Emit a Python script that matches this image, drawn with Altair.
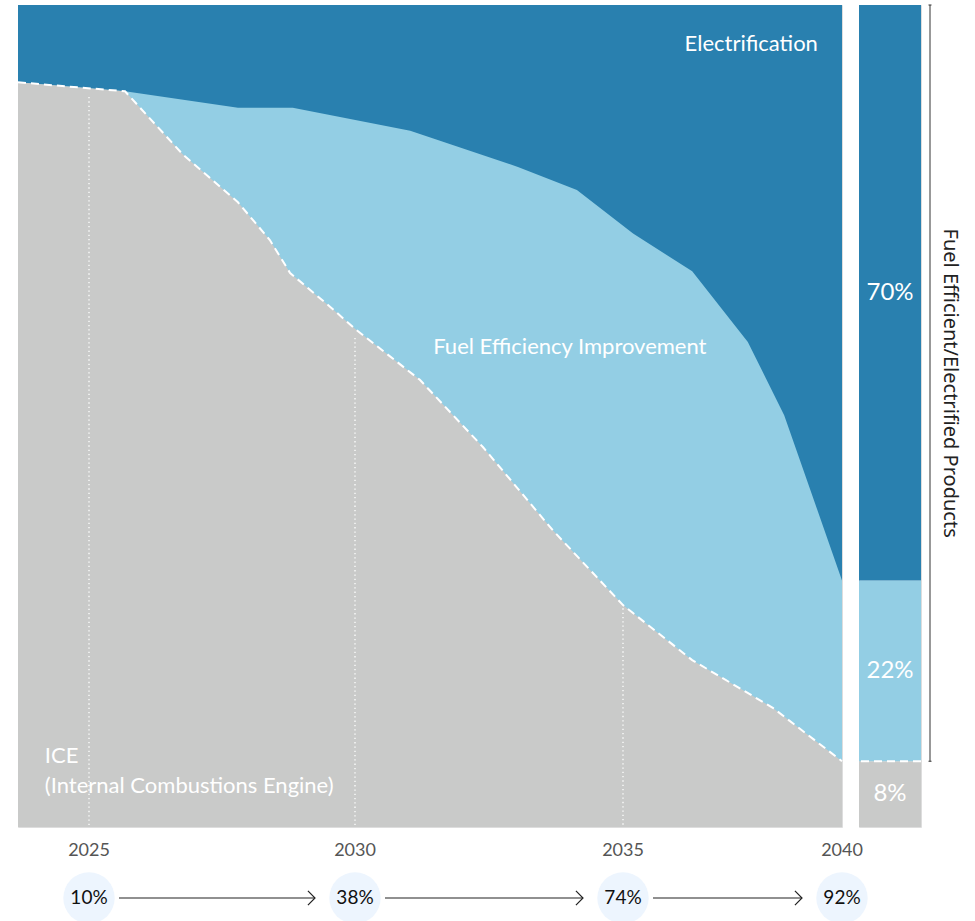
import altair as alt
import pandas as pd

# ---- data ----
# ICE share (%) along the timeline (top of the grey band)
ice_years = [2023.665, 2025.677, 2026.767, 2027.80, 2028.40, 2028.78, 2029.53, 2030.0,
             2031.21, 2032.39, 2033.69, 2035.0, 2036.58, 2038.42, 2040.0]
ice_share = [90.6, 89.5, 81.8, 76.0, 71.4, 67.4, 63.3, 60.6,
             54.4, 46.2, 36.1, 27.0, 20.3, 14.5, 8.0]

# ICE + fuel-efficiency share (%) (top of the light-blue band)
fe_years = [2023.665, 2025.677, 2027.80, 2028.83, 2031.03, 2033.04, 2034.14,
            2035.23, 2036.58, 2037.85, 2038.68, 2040.0]
fe_top = [90.6, 89.5, 87.5, 87.5, 84.7, 80.3, 77.5,
          72.2, 67.6, 59.0, 50.1, 30.0]

# Electrification fills up to 100 %
elec_years = [2023.665, 2040.0]
elec_top = [100, 100]

# milestones
milestone_years = [2025, 2030, 2035, 2040]
milestone_labels = ["2025", "2030", "2035", "2040"]
milestone_share = ["10%", "38%", "74%", "92%"]
guide_years = [2025, 2030, 2035]
guide_top = [88.8, 59.5, 26.6]

# 2040 split bar
bar_segments = ["ICE", "Fuel Efficiency Improvement", "Electrification"]
bar_values = [8, 22, 70]
bar_labels = ["8%", "22%", "70%"]

# area labels
area_label_text = ["Electrification", "Fuel Efficiency Improvement", "ICE", "(Internal Combustions Engine)"]
area_label_x = [2039.45, 2031.46, 2024.17, 2024.17]
area_label_y = [95.3, 58.4, 8.6, 5.0]
area_label_align = ["right", "left", "left", "left"]

axis_title = "Fuel Efficient/Electrified Products"

# ---- styling ----
DARK = "#2980AF"
LIGHT = "#93CEE4"
GREY = "#C9CAC9"
CIRCLE = "#EDF5FE"
FONT = "Lato"

W, H = 824, 822
xscale = alt.Scale(domain=[2023.665, 2025, 2030, 2035, 2040], range=[0, 71, 337, 605, 824],
                   nice=False, zero=False)
yscale = alt.Scale(domain=[0, 100], nice=False, zero=True)

X = lambda f: alt.X(f, type="quantitative", scale=xscale, axis=None)
Y = lambda f: alt.Y(f, type="quantitative", scale=yscale, axis=None)

ice_df = pd.DataFrame({"year": ice_years, "share": ice_share})
fe_df = pd.DataFrame({"year": fe_years, "share": fe_top})
el_df = pd.DataFrame({"year": elec_years, "share": elec_top})

elec = alt.Chart(el_df).mark_area(color=DARK, opacity=1).encode(x=X("year"), y=Y("share"))
fe = alt.Chart(fe_df).mark_area(color=LIGHT, opacity=1).encode(x=X("year"), y=Y("share"))
ice = alt.Chart(ice_df).mark_area(color=GREY, opacity=1).encode(x=X("year"), y=Y("share"))
ice_line = alt.Chart(ice_df).mark_line(color="white", strokeWidth=2, strokeDash=[8, 5]).encode(
    x=X("year"), y=Y("share"))

guide_df = pd.DataFrame({"year": guide_years, "top": guide_top, "bottom": [0] * len(guide_years)})
guides = alt.Chart(guide_df).mark_rule(color="white", strokeWidth=1.3, strokeDash=[1.3, 3]).encode(
    x=X("year"), y=Y("top"), y2="bottom:Q")

lab_df = pd.DataFrame({"t": area_label_text, "x": area_label_x, "y": area_label_y, "a": area_label_align})
lab_right = alt.Chart(lab_df[lab_df.a == "right"]).mark_text(
    align="right", baseline="middle", color="white", fontSize=22, font=FONT).encode(
    x=X("x"), y=Y("y"), text="t:N")
lab_left = alt.Chart(lab_df[lab_df.a == "left"]).mark_text(
    align="left", baseline="middle", color="white", fontSize=22, font=FONT).encode(
    x=X("x"), y=Y("y"), text="t:N")

ms_df = pd.DataFrame({"year": milestone_years, "label": milestone_labels, "share": milestone_share})
year_text = alt.Chart(ms_df).mark_text(fontSize=18, color="#555555", font=FONT, baseline="middle").encode(
    x=X("year"), y=alt.value(846), text="label:N")
circles = alt.Chart(ms_df).mark_circle(size=2642, color=CIRCLE, opacity=1).encode(
    x=X("year"), y=alt.value(893))
circle_text = alt.Chart(ms_df).mark_text(fontSize=19, color="#111111", font=FONT, baseline="middle").encode(
    x=X("year"), y=alt.value(893), text="share:N")

arr_df = pd.DataFrame({"from": milestone_years[:-1], "to": milestone_years[1:]})
arrows = alt.Chart(arr_df).mark_rule(color="#222222", strokeWidth=1.2, xOffset=30, x2Offset=-40).encode(
    x=X("from"), x2="to:Q", y=alt.value(893))
heads = alt.Chart(arr_df).mark_point(shape="M-1,-1L0,0L-1,1", filled=False, size=200, color="#222222",
                                     strokeWidth=1.2, opacity=1, xOffset=-40).encode(
    x=X("to"), y=alt.value(893))

main = alt.layer(elec, fe, ice, guides, ice_line, lab_right, lab_left,
                 year_text, circles, arrows, heads, circle_text).properties(width=W, height=H)

# ---- right bar ----
y0, y1, acc = [], [], 0
for v in bar_values:
    y0.append(acc)
    acc += v
    y1.append(acc)
bar_df = pd.DataFrame({"seg": bar_segments, "v": bar_values, "y0": y0, "y1": y1,
                       "mid": [(a + b) / 2 for a, b in zip(y0, y1)], "label": bar_labels,
                       "col": ["2040"] * 3})
bar = alt.Chart(bar_df).mark_bar(opacity=1).encode(
    x=alt.X("col:N", scale=alt.Scale(padding=0), axis=None),
    y=Y("y1"), y2="y0:Q",
    color=alt.Color("seg:N", scale=alt.Scale(domain=bar_segments, range=[GREY, LIGHT, DARK]), legend=None))
bar_text = alt.Chart(bar_df).mark_text(color="white", fontSize=24, font=FONT, baseline="middle").encode(
    x=alt.X("col:N", scale=alt.Scale(padding=0), axis=None), y=Y("mid"), text="label:N")
split_df = pd.DataFrame({"v": [bar_values[0]]})
split = alt.Chart(split_df).mark_rule(color="white", strokeWidth=2, strokeDash=[8, 5]).encode(y=Y("v"))

br_df = pd.DataFrame({"top": [100], "bottom": [bar_values[0]], "mid": [(100 + bar_values[0]) / 2],
                      "title": [axis_title]})
bracket = alt.Chart(br_df).mark_rule(color="#333333", strokeWidth=1).encode(
    x=alt.value(71), y=Y("top"), y2="bottom:Q")
cap_df = pd.DataFrame({"y": [100, bar_values[0]]})
caps = alt.Chart(cap_df).mark_rule(color="#333333", strokeWidth=1).encode(
    x=alt.value(69.5), x2=alt.value(72.5), y=Y("y"))
title = alt.Chart(br_df).mark_text(angle=90, fontSize=20, color="#222222", font="Noto Sans",
                                   align="center", baseline="middle").encode(
    x=alt.value(91), y=Y("mid"), text="title:N")

side = alt.layer(bar, split, bar_text, bracket, caps, title).properties(width=62, height=H)

chart = alt.hconcat(main, side, spacing=17, bounds="flush",
                    padding={"left": 13, "top": 4, "right": 10, "bottom": 0}).configure_view(
    stroke=None).configure(background="white")

chart.save("out.html", embed_options={"renderer": "svg", "actions": False})
